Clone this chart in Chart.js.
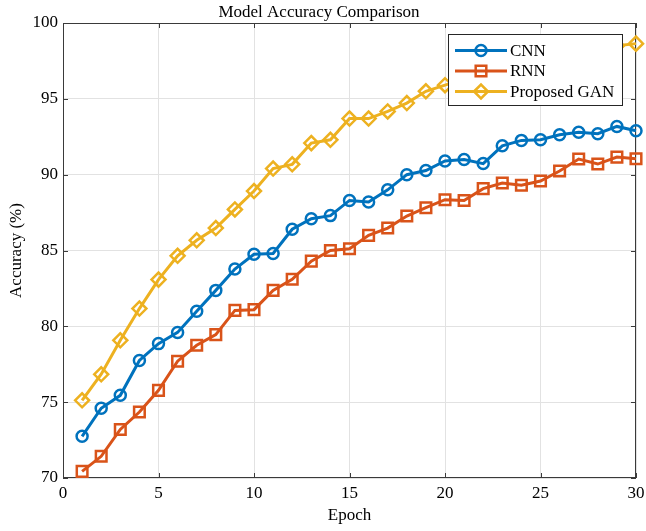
<!DOCTYPE html>
<html>
<head>
<meta charset="utf-8">
<script src="https://cdn.jsdelivr.net/npm/chart.js"></script>
<style>
  html, body { margin: 0; padding: 0; background: #fff; }
  #wrap { width: 646px; height: 531px; }
</style>
</head>
<body>
<div id="wrap"><canvas id="mycanvas"></canvas></div>
<script>
var epochs = [1,2,3,4,5,6,7,8,9,10,11,12,13,14,15,16,17,18,19,20,21,22,23,24,25,26,27,28,29,30];
var cnnAcc = [72.75,74.6,75.45,77.75,78.86,79.6,81.0,82.37,83.78,84.75,84.8,86.4,87.1,87.3,88.3,
              88.2,89.0,90.0,90.27,90.9,91.0,90.73,91.9,92.26,92.3,92.63,92.8,92.7,93.18,92.9];
var rnnAcc = [70.44,71.43,73.2,74.35,75.78,77.7,78.75,79.45,81.05,81.1,82.37,83.1,84.3,85.0,85.12,
              86.0,86.48,87.27,87.82,88.35,88.3,89.08,89.45,89.3,89.58,90.24,91.03,90.7,91.16,91.05];
var ganAcc = [75.12,76.84,79.08,81.17,83.08,84.65,85.67,86.48,87.71,88.92,90.4,90.68,92.08,92.3,93.7,
              93.7,94.17,94.72,95.5,95.9,96.3,96.4,96.9,97.1,97.5,97.6,98.0,98.1,98.5,98.64];
var seriesNames = ["CNN", "RNN", "Proposed GAN"];
var seriesColors = ["#0072BD", "#D95319", "#EDB120"];
var xTicks = [0, 5, 10, 15, 20, 25, 30];
var yTicks = [70, 75, 80, 85, 90, 95, 100];

var serif = "'Liberation Serif', 'Times New Roman', serif";

function toPoints(vals) {
    var pts = [];
    for (var i in epochs) {
        pts.push({x: epochs[i], y: vals[i]});
    }
    return pts;
}

var styles = [
    {pointStyle: 'circle', pointRadius: 5.5},
    {pointStyle: 'rect', pointRadius: 7.5},
    {pointStyle: 'rectRot', pointRadius: 7}
];
var allVals = [cnnAcc, rnnAcc, ganAcc];
var datasets = [];
for (var s = 0; s < 3; s++) {
    datasets.push({
        label: seriesNames[s],
        data: toPoints(allVals[s]),
        borderColor: seriesColors[s],
        backgroundColor: 'rgba(255,255,255,0)',
        pointBorderColor: seriesColors[s],
        pointBackgroundColor: 'rgba(255,255,255,0)',
        borderWidth: 3,
        pointBorderWidth: 2.5,
        pointStyle: styles[s].pointStyle,
        pointRadius: styles[s].pointRadius,
        pointHoverRadius: styles[s].pointRadius,
        tension: 0,
        clip: false
    });
}

// box, inward ticks and the legend inside the plot
var boxPlugin = {
    id: 'matlabBox',
    beforeDatasetsDraw: function(chart) {
        var ctx = chart.ctx, a = chart.chartArea;
        var xs = chart.scales.x, ys = chart.scales.y;
        ctx.save();
        ctx.strokeStyle = '#3a3a3a';
        ctx.lineWidth = 1;
        ctx.strokeRect(a.left + 0.5, a.top + 0.5, a.right - a.left - 1, a.bottom - a.top - 1);
        ctx.beginPath();
        xTicks.forEach(function(v) {
            var px = Math.round(xs.getPixelForValue(v)) + 0.5;
            ctx.moveTo(px, a.bottom); ctx.lineTo(px, a.bottom - 5);
            ctx.moveTo(px, a.top); ctx.lineTo(px, a.top + 5);
        });
        yTicks.forEach(function(v) {
            var py = Math.round(ys.getPixelForValue(v)) + 0.5;
            ctx.moveTo(a.left, py); ctx.lineTo(a.left + 5, py);
            ctx.moveTo(a.right, py); ctx.lineTo(a.right - 5, py);
        });
        ctx.stroke();
        ctx.restore();
    },
    afterDraw: function(chart) {
        var ctx = chart.ctx;
        var bx = 448, by = 34, bw = 174, bh = 71;
        ctx.save();
        ctx.fillStyle = '#fff';
        ctx.fillRect(bx, by, bw, bh);
        ctx.strokeStyle = '#262626';
        ctx.lineWidth = 1;
        ctx.strokeRect(bx + 0.5, by + 0.5, bw, bh);
        var rows = [50.5, 71, 91.5];
        for (var i = 0; i < 3; i++) {
            var ds = chart.data.datasets[i];
            var y = rows[i];
            ctx.strokeStyle = ds.borderColor;
            ctx.lineWidth = 3;
            ctx.beginPath();
            ctx.moveTo(455, y); ctx.lineTo(507, y);
            ctx.stroke();
            ctx.lineWidth = ds.pointBorderWidth;
            ctx.fillStyle = 'rgba(255,255,255,0)';
            Chart.helpers.drawPoint(ctx, {
                pointStyle: ds.pointStyle,
                radius: ds.pointRadius,
                borderWidth: ds.pointBorderWidth,
                rotation: 0
            }, 481, y);
            ctx.fillStyle = '#000';
            ctx.font = '17px ' + serif;
            ctx.textBaseline = 'middle';
            ctx.textAlign = 'left';
            ctx.fillText(ds.label, 510, y + 1);
        }
        ctx.restore();
    }
};

var ctx = document.getElementById('mycanvas');
var chart = new Chart(ctx, {
    type: 'line',
    data: {datasets: datasets},
    plugins: [boxPlugin],
    options: {
        responsive: true,
        maintainAspectRatio: false,
        animation: false,
        events: [],
        layout: {padding: {left: 0, right: 8, top: 0, bottom: 0}},
        plugins: {
            legend: {display: false},
            tooltip: {enabled: false},
            title: {
                display: true,
                text: 'Model Accuracy Comparison',
                color: '#000',
                font: {family: serif, size: 17, weight: 'normal', lineHeight: 1.2},
                padding: {top: 2, bottom: 0.6}
            }
        },
        scales: {
            x: {
                type: 'linear',
                min: 0, max: 30,
                afterBuildTicks: function(scale) {
                    scale.ticks = xTicks.map(function(v) { return {value: v}; });
                },
                afterFit: function(scale) {
                    scale.height = 53;
                    scale.paddingLeft = 0;
                    scale.paddingRight = 0;
                },
                grid: {color: '#e2e2e2', drawTicks: false},
                border: {display: false},
                ticks: {color: '#000', padding: 5, maxRotation: 0,
                        font: {family: serif, size: 17}},
                title: {display: true, text: 'Epoch', color: '#000',
                        font: {family: serif, size: 17},
                        padding: {top: 0, bottom: 5}}
            },
            y: {
                min: 70, max: 100,
                afterBuildTicks: function(scale) {
                    scale.ticks = yTicks.map(function(v) { return {value: v}; });
                },
                afterFit: function(scale) {
                    scale.width = 63;
                },
                grid: {color: '#e2e2e2', drawTicks: false},
                border: {display: false},
                ticks: {color: '#000', padding: 5,
                        font: {family: serif, size: 17}},
                title: {display: true, text: 'Accuracy (%)', color: '#000',
                        font: {family: serif, size: 17},
                        padding: {top: 6, bottom: 0}}
            }
        }
    }
});
</script>
</body>
</html>
